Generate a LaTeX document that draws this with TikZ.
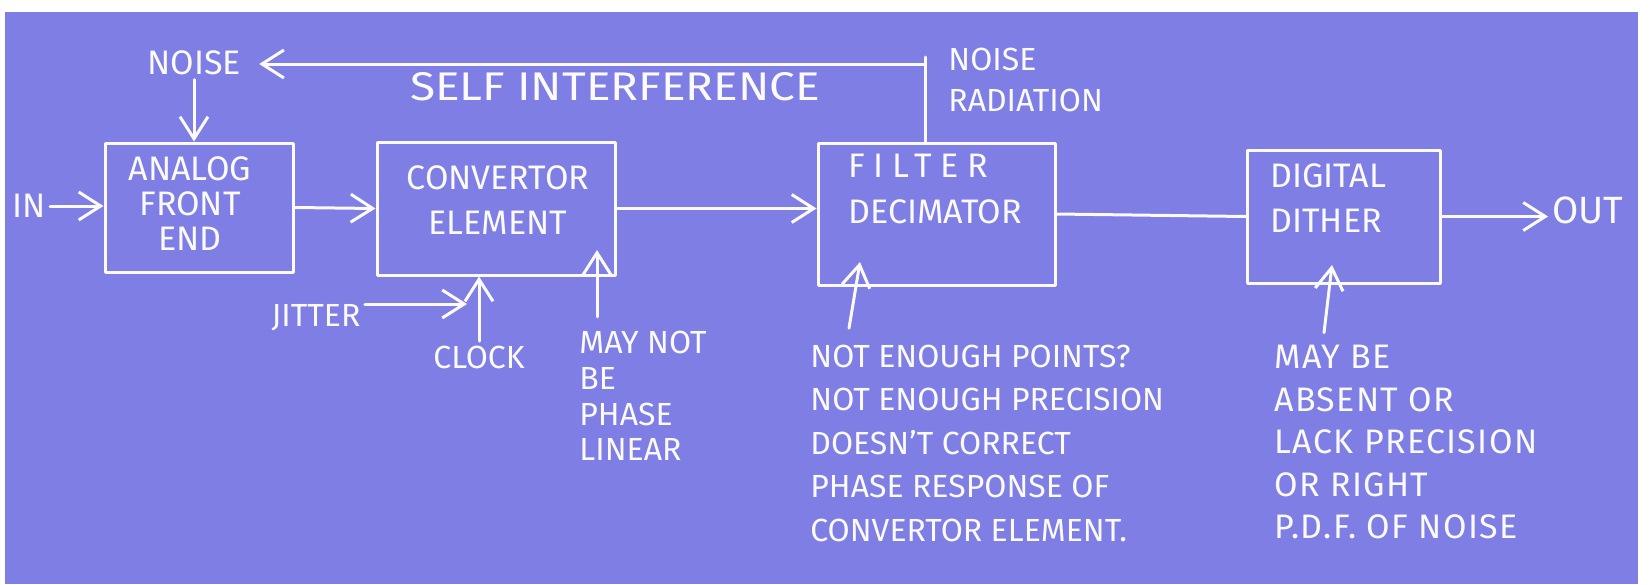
\documentclass[tikz,border=0pt]{standalone}
\usepackage{fontspec}
\setmainfont{Fira Sans}
\usetikzlibrary{arrows.meta,fit,calc}
\definecolor{bgblue}{RGB}{126,126,228}
\definecolor{chalk}{RGB}{250,250,255}
\begin{document}
\begin{tikzpicture}[x=0.5pt,y=-0.5pt,
  pen/.style={draw=chalk,line width=1.5pt,line cap=round,line join=round},
  arr/.style={pen,-{Straight Barb[length=11pt,width=14pt,line width=1.5pt]}},
  box/.style={pen,inner sep=0pt},
  lbl/.style={text=chalk,inner sep=2pt,font=\fontsize{16}{20}\selectfont}]

\fill[white] (0,0) rectangle (1650,584);
\fill[bgblue] (5,12) rectangle (1638,584);
\useasboundingbox (0,0) rectangle (1650,584);

% boxes
\node[box, fit={(105,143) (293,272)}] (b1) {};
\node[box, fit={(377,142) (615,275)}] (b2) {};
\node[box, fit={(818,143) (1055,285)}] (b3) {};
\node[box, fit={(1247,150) (1440,283)}] (b4) {};

% box texts
\node[lbl, align=center, font=\fontsize{17}{17.5}\selectfont] (t1) at (190,204) {ANALOG\\FRONT\\END};
\node[lbl, align=center, font=\fontsize{17}{22.5}\selectfont] (t2) at (498,200) {CONVERTOR\\ELEMENT};
\node[lbl, align=left, anchor=west, font=\fontsize{17}{23}\selectfont] (t3) at (844,189)
  {{\addfontfeature{LetterSpace=25}FILTER}\\DECIMATOR};
\node[lbl, align=left, anchor=west, font=\fontsize{17}{22.5}\selectfont] (t4) at (1266,198) {DIGITAL\\DITHER};

% labels
\node[lbl, font=\fontsize{17}{20}\selectfont] (noiseL) at (194,63) {NOISE};
\node[lbl, font=\fontsize{20}{20}\selectfont] (self) at (615,87) {\scalebox{1.15}[1]{SELF INTERFERENCE}};
\node[lbl, align=left, anchor=west, font=\fontsize{16}{20.5}\selectfont] (rad) at (944,80) {NOISE\\RADIATION};
\node[lbl, font=\fontsize{17}{20}\selectfont] (inlbl) at (29,206) {IN};
\node[lbl, font=\fontsize{19}{20}\selectfont] (outlbl) at (1588,210) {OUT};
\node[lbl] (jitter) at (316,318) {JITTER};
\node[lbl] (clock) at (479,357) {CLOCK};
\node[lbl, align=left, anchor=west, font=\fontsize{16}{17.8}\selectfont] (maynot) at (575,396) {MAY NOT\\BE\\PHASE\\LINEAR};
\node[lbl, align=left, anchor=west, font=\fontsize{16}{21.75}\selectfont] (notenough) at (806,443)
  {NOT ENOUGH POINTS?\\NOT ENOUGH PRECISION\\DOESN'T CORRECT\\PHASE RESPONSE OF\\CONVERTOR ELEMENT.};
\node[lbl, align=left, anchor=west, font=\fontsize{17}{21.25}\selectfont\addfontfeature{LetterSpace=4}] (maybe) at (1270,442)
  {MAY BE\\ABSENT OR\\LACK PRECISION\\OR RIGHT\\P.D.F. OF NOISE};

% signal chain
\draw[arr] (inlbl.east) -- (inlbl.east -| b1.west);
\draw[arr] (b1.east) -- (b2.west);
\draw[arr] (b2.east) -- (b2.east -| b3.west);
\draw[pen] (b3.east) -- (b4.west);
\draw[arr] (b4.east) -- (b4.east -| outlbl.west);

% noise / self interference
\draw[arr] (noiseL.south) -- (noiseL.south |- b1.north);
\coordinate (sitop) at (925,57);
\coordinate (sicorner) at (925,64);
\draw[pen] (b3.north -| sitop) -- (sitop);
\draw[arr, shorten >=7pt] (sicorner) -- (sicorner -| noiseL.east);

% jitter / clock
\coordinate (jt) at ([yshift=7pt]jitter.east);
\draw[arr, shorten >=6pt] (jt) -- (jt -| clock.north);
\draw[arr] (clock.north) -- (clock.north |- b2.south);

% annotation arrows
\coordinate (mntip) at (597,250);
\draw[arr] ([shift={(11pt,5pt)}]maynot.north west) -- (mntip);
\coordinate (ftip) at (860,262);
\draw[arr] ([shift={(21.5pt,6pt)}]notenough.north west) -- (ftip);
\coordinate (dtip) at (1332,265);
\draw[arr] ([shift={(27pt,4pt)}]maybe.north west) -- (dtip);
\end{tikzpicture}
\end{document}
